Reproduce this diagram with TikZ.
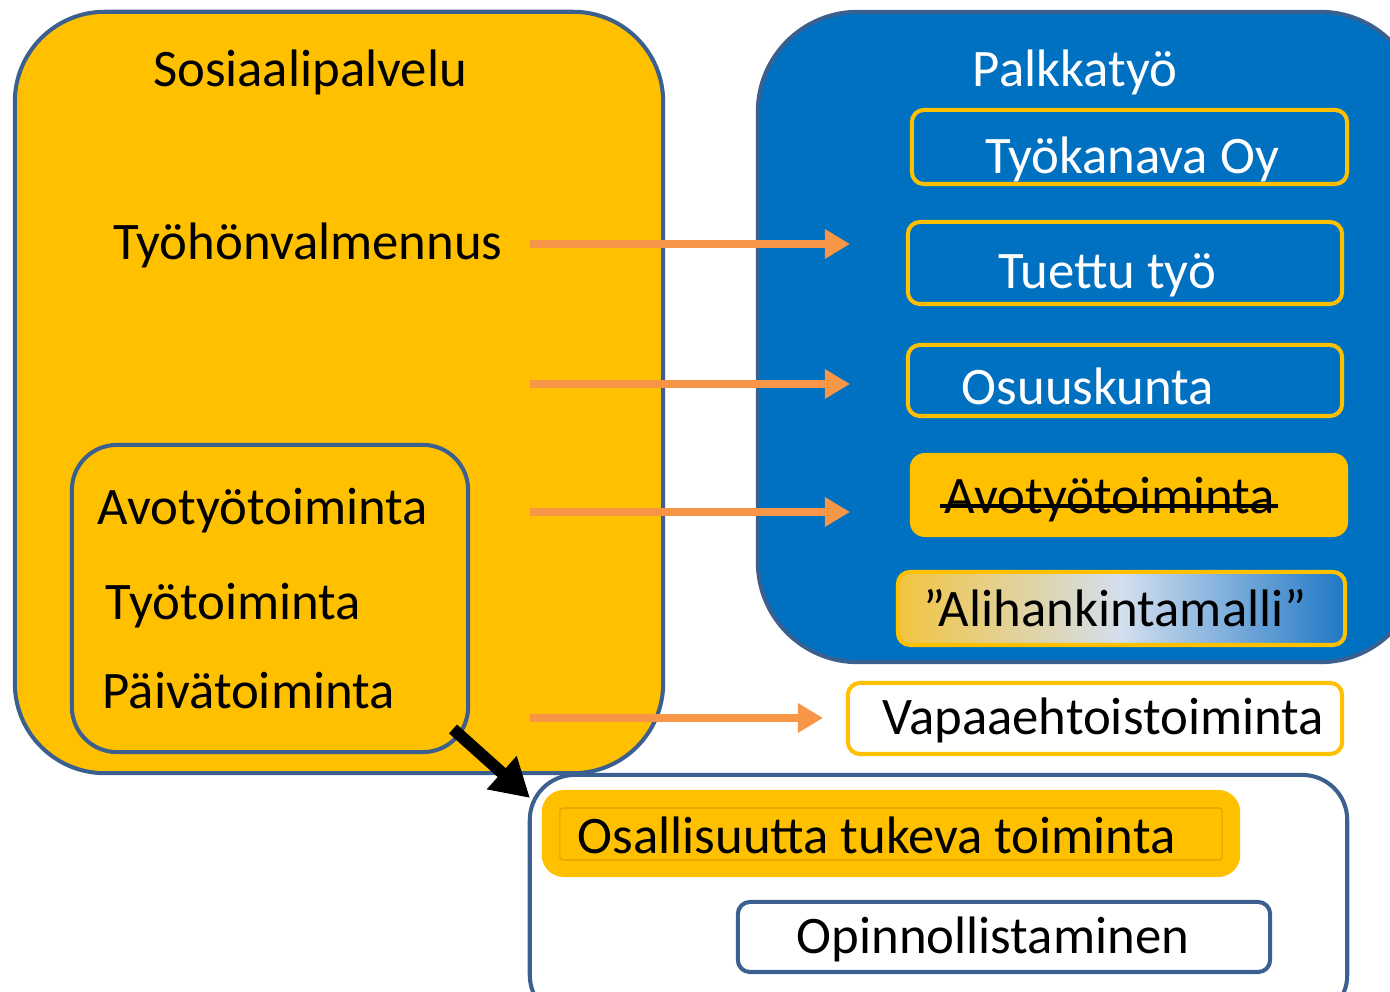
\documentclass[tikz,border=0pt]{standalone}
\usepackage{fontspec}
\setmainfont{Carlito}
\usetikzlibrary{arrows.meta}
\definecolor{sosyellow}{HTML}{FFC000}
\definecolor{palkblue}{HTML}{0070C0}
\definecolor{edgeblue}{HTML}{3B6090}
\definecolor{arroworange}{HTML}{F79646}
\definecolor{paleblue}{HTML}{D3DFEE}
\definecolor{paleyellow}{HTML}{F2C440}
\definecolor{deepblue}{HTML}{2078C6}
\tikzset{
  txt/.style={font=\fontsize{15}{18}\selectfont, inner sep=0pt, anchor=base, yshift=-0.02cm},
  bigbox/.style={draw=edgeblue, line width=1.15pt, rounded corners=#1},
  bigbox/.default=0.9cm,
  smallbox/.style={draw=#1, line width=1.15pt, rounded corners=0.12cm},
  smallbox/.default=sosyellow,
  orarrow/.style={draw=arroworange, line width=2.3pt, -{Triangle[length=0.25cm, width=0.28cm]}},
  blkarrow/.style={draw=black, line width=3.4pt, -{Triangle[length=0.38cm, width=0.42cm]}}
}
\begin{document}
\begin{tikzpicture}[x=0.01cm, y=-0.01cm]
  \useasboundingbox (0,0) rectangle (1390,992);
  % left side
  \node[bigbox, fill=sosyellow, minimum width=6.48cm, minimum height=7.61cm] (sos) at (339,392.5) {};
  \node[txt] (sostitle) at (310,85) {Sosiaalipalvelu};
  \node[txt] (tyohon) at (308,258) {Työhönvalmennus};
  \node[bigbox=0.45cm, fill=sosyellow, minimum width=3.96cm, minimum height=3.07cm] (sosin) at (270,598.5) {};
  \node[txt, anchor=base west] (avotyo) at (97,523) {Avotyötoiminta};
  \node[txt, anchor=base west] (tyotoim) at (105,618) {Työtoiminta};
  \node[txt, anchor=base west] (paiva) at (102,707) {Päivätoiminta};
  % right side
  \node[bigbox=1cm, fill=palkblue, minimum width=6.62cm, minimum height=6.5cm] (palkka) at (1089,337) {};
  \node[txt, text=white] (palktitle) at (1075,85) {Palkkatyö};
  \node[smallbox, fill=palkblue, minimum width=4.35cm, minimum height=0.74cm] (tyokanava) at (1129.5,147) {};
  \node[txt, text=white] (tyokanavatxt) at (1132,172) {Työkanava Oy};
  \node[smallbox, fill=palkblue, minimum width=4.34cm, minimum height=0.82cm] (tuettu) at (1125,263) {};
  \node[txt, text=white] (tuettutxt) at (1107,287) {Tuettu työ};
  \node[smallbox, fill=palkblue, minimum width=4.34cm, minimum height=0.71cm] (osuus) at (1125,380.5) {};
  \node[txt, text=white] (osuustxt) at (1088,403) {Osuuskunta};
  \node[fill=sosyellow, rounded corners=0.15cm, minimum width=4.38cm, minimum height=0.84cm] (avo) at (1129,495) {};
  \node[txt, anchor=base west] (avotxt) at (944,512) {Avotyötoiminta};
  \draw[line width=1pt] ([xshift=-0.04cm, yshift=0.08cm]avotxt.base west) -- ([xshift=0.02cm, yshift=0.08cm]avotxt.base east);
  \node[smallbox, left color=paleyellow, right color=deepblue, middle color=paleblue, minimum width=4.47cm, minimum height=0.73cm] (aliha) at (1121.5,608.5) {};
  \node[txt] (alihatxt) at (1115,625) {”Alihankintamalli”};
  \node[smallbox, fill=white, minimum width=4.94cm, minimum height=0.71cm] (vapaa) at (1095,718.5) {};
  \node[txt] (vapaatxt) at (1103,733) {Vapaaehtoistoiminta};
  % bottom
  \node[bigbox=0.45cm, fill=white, minimum width=8.17cm, minimum height=2.45cm] (osal) at (938.5,897.5) {};
  \node[fill=sosyellow, rounded corners=0.22cm, minimum width=6.98cm, minimum height=0.87cm] (osalli) at (891,833.5) {};
  \node[draw=sosyellow!85!black, line width=0.3pt, rounded corners=0.03cm, minimum width=6.62cm, minimum height=0.52cm] (osallin) at (891,834) {};
  \node[txt, anchor=base west] (osallitxt) at (577,852) {Osallisuutta tukeva toiminta};
  \node[smallbox=edgeblue, fill=white, minimum width=5.32cm, minimum height=0.7cm] (opin) at (1004,937) {};
  \node[txt] (opintxt) at (993,952) {Opinnollistaminen};
  % arrows
  \coordinate (o1) at (530,244);
  \coordinate (o2) at (530,384);
  \coordinate (o3) at (530,512);
  \coordinate (o4) at (530,718);
  \coordinate (p1) at (850,244);
  \coordinate (p2) at (850,384);
  \coordinate (p3) at (850,512);
  \coordinate (p4) at (823,718);
  \draw[orarrow] (o1) -- (p1);
  \draw[orarrow] (o2) -- (p2);
  \draw[orarrow] (o3) -- (p3);
  \draw[orarrow] (o4) -- (p4);
  \coordinate (b1) at (453,729);
  \coordinate (b2) at (530,798);
  \draw[blkarrow] (b1) -- (b2);
\end{tikzpicture}
\end{document}
